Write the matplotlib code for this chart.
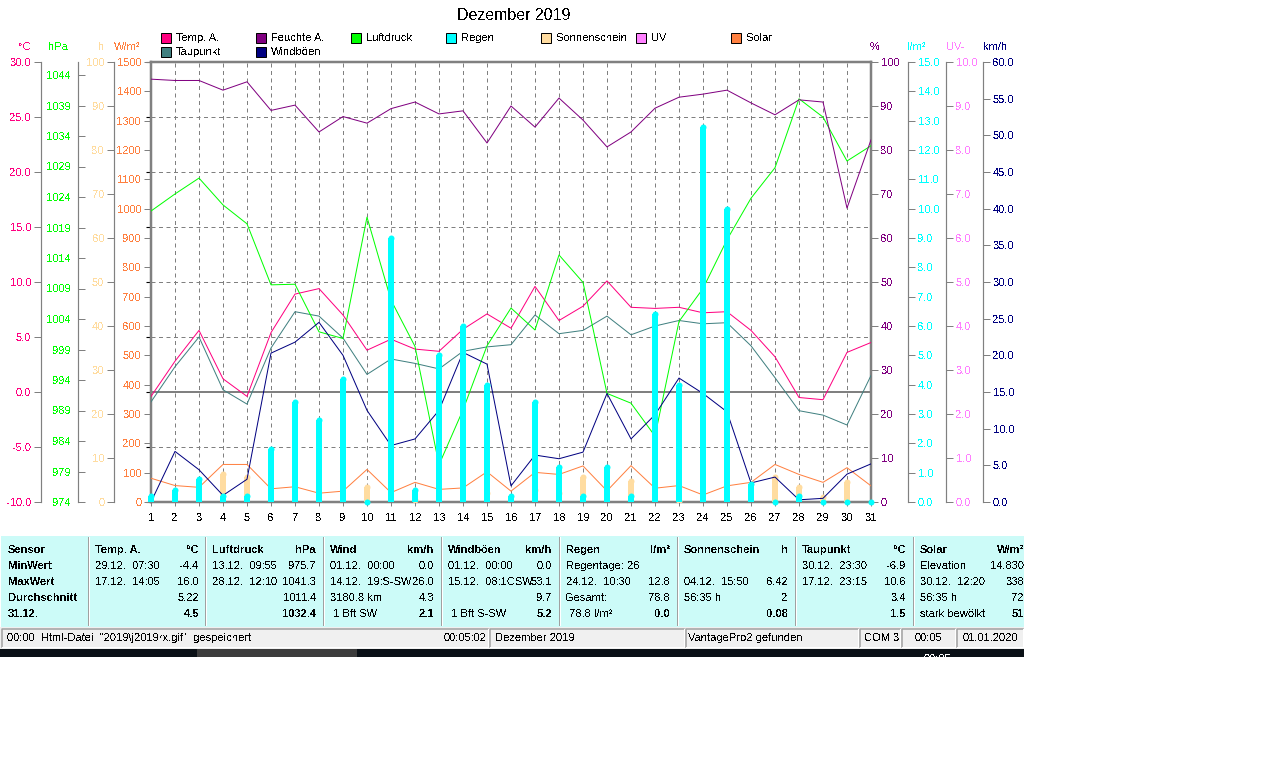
import matplotlib
matplotlib.use("Agg")
import matplotlib.pyplot as plt
import numpy as np
from matplotlib.patches import Rectangle

plt.rcParams['font.family'] = ['Liberation Sans', 'DejaVu Sans']
plt.rcParams['text.antialiased'] = False

# ==========================
# DATA
# ==========================
days = list(range(1, 32))

temp = [-0.4, 2.8, 5.6, 1.2, -0.4, 5.4, 8.9, 9.4, 7.0, 3.8, 4.8, 3.9, 3.7, 5.7, 7.1, 5.8,
        9.6, 6.5, 7.8, 10.1, 7.7, 7.6, 7.7, 7.2, 7.3, 5.6, 3.2, -0.5, -0.7, 3.6, 4.5]
dewpoint = [-0.9, 2.3, 5.0, 0.2, -1.1, 4.0, 7.3, 6.9, 4.9, 1.6, 3.0, 2.6, 2.1, 3.7, 4.1, 4.3,
            7.0, 5.3, 5.6, 6.9, 5.2, 6.0, 6.5, 6.2, 6.3, 4.2, 1.3, -1.7, -2.1, -3.0, 1.5]
humidity = [96.1, 95.8, 95.8, 93.6, 95.5, 89.0, 90.2, 84.1, 87.6, 86.1, 89.4, 90.9, 88.2, 88.9, 81.6, 90.0,
            85.2, 91.8, 86.8, 80.7, 84.1, 89.5, 92.0, 92.7, 93.6, 90.7, 88.0, 91.4, 90.9, 66.8, 82.3]
gusts = [0.0, 6.9, 4.4, 0.9, 3.1, 20.3, 21.8, 24.5, 20.0, 12.5, 7.7, 8.6, 12.5, 20.4, 18.8, 2.2,
         6.4, 5.9, 6.8, 14.8, 8.6, 11.9, 16.9, 14.8, 12.3, 2.6, 3.4, 0.3, 0.5, 3.8, 5.2]
pressure = [1021.7, 1024.5, 1027.1, 1022.7, 1019.6, 1009.6, 1009.7, 1001.9, 1000.8, 1020.7, 1007.1,
            999.5, 980.1, 989.1, 999.6, 1005.8, 1002.2, 1014.5, 1010.0, 991.8, 990.2, 984.8,
            1003.6, 1009.0, 1017.0, 1023.8, 1028.8, 1040.1, 1037.1, 1029.9, 1032.4]
solar = [81, 56, 50, 128, 128, 45, 52, 30, 37, 111, 32, 67, 43, 48, 103, 37,
         101, 94, 123, 38, 124, 47, 56, 24, 55, 67, 128, 94, 67, 117, 55]
rain = [0.2, 0.4, 0.8, 0.2, 0.2, 1.8, 3.4, 2.8, 4.2, 0.0, 9.0, 0.4, 5.0, 6.0, 4.0, 0.2,
        3.4, 1.2, 0.2, 1.2, 0.2, 6.4, 4.0, 12.8, 10.0, 0.6, 0.0, 0.2, 0.0, 0.0, 0.0]
sunshine = [0, 0, 0, 6.42, 5.6, 0, 0, 0, 0, 3.4, 0, 0.5, 0, 0, 2.0, 0,
            2.8, 2.0, 5.6, 0, 4.7, 0, 0.2, 0, 0, 0, 5.6, 3.5, 1.05, 4.5, 0]

temp_ticks = list(range(-10, 31, 5))
pressure_ticks = list(range(974, 1045, 5))
sun_ticks = list(range(0, 101, 10))
solar_ticks = list(range(0, 1501, 100))
humidity_ticks = list(range(0, 101, 10))
rain_ticks = list(range(0, 16))
uv_ticks = list(range(0, 11))
wind_ticks = list(range(0, 61, 5))

legend_rows = [("Temp. A.", "Taupunkt"), ("Feuchte A.", "Windböen"), ("Luftdruck", None), ("Regen", None),
               ("Sonnenschein", None), ("UV", None), ("Solar", None)]
row_names = ["Sensor", "MinWert", "MaxWert", "Durchschnitt", "31.12."]
table_panels = [
    ("Temp. A.", "°C", ["29.12.  07:30", "17.12.  14:05", "", ""], ["-4.4", "16.0", "5.22", "4.5"]),
    ("Luftdruck", "hPa", ["13.12.  09:55", "28.12.  12:10", "", ""], ["975.7", "1041.3", "1011.4", "1032.4"]),
    ("Wind", "km/h", ["01.12.  00:00", "14.12.  19:S-SW", "3180.8 km", " 1 Bft SW"], ["0.0", "26.0", "4.3", "2.1"]),
    ("Windböen", "km/h", ["01.12.  00:00", "15.12.  08:1CSW", "", " 1 Bft S-SW"], ["0.0", "53.1", "9.7", "5.2"]),
    ("Regen", "l/m²", ["Regentage: 26", "24.12.  10:30", "Gesamt:", " 78.8 l/m²"], ["", "12.8", "78.8", "0.0"]),
    ("Sonnenschein", "h", ["", "04.12.  15:50", "56:35 h", ""], ["", "6.42", "2", "0.08"]),
    ("Taupunkt", "°C", ["30.12.  23:30", "17.12.  23:15", "", ""], ["-6.9", "10.6", "3.4", "1.5"]),
    ("Solar", "W/m²", ["Elevation", "30.12.  12:20", "56:35 h", "stark bewölkt"], ["14.830", "338", "72", "51"]),
]
status_cells = [
    (2, 488, '00:00  Html-Datei  "2019\\j2019rx.gif"  gespeichert', 5, "00:05:02"),
    (490, 684, "Dezember 2019", 5, ""),
    (686, 858, "VantagePro2 gefunden", 2, ""),
    (860, 900, "COM 3", 4, ""),
    (902, 955, "00:05", 13, ""),
    (957, 1023, "01.01.2020", 6, ""),
]

# ==========================
# COLOURS / LAYOUT
# ==========================
C_TEMP = '#ff0080'
C_DEW = '#408080'
C_HUM = '#800080'
C_GUST = '#000080'
C_PRESS = '#00ff00'
C_RAIN = '#00ffff'
C_SUN = '#ffdca0'
C_UV = '#ff80ff'
C_SOLAR = '#ff8040'
GRAY = '#808080'

W, H = 1264, 768
PX = 0.72  # one pixel in points at dpi 100
L, R, T, B = 151, 871, 62, 502

fig = plt.figure(figsize=(W / 100, H / 100), dpi=100, facecolor='white')

# background layer in pixel coordinates, for everything that is not a scale
bg = fig.add_axes([0, 0, 1, 1], zorder=0)
bg.set_xlim(0, W)
bg.set_ylim(H, 0)
bg.axis('off')

# ==========================
# PLOT FRAME AND GRID
# ==========================
ax = fig.add_axes([L / W, 1 - B / H, (R - L) / W, (B - T) / H], zorder=1)
ax.patch.set_alpha(0)
ax.set_xlim(1, 31)
ax.set_ylim(-10, 30)
ax.set_xticks(days)
ax.set_yticks(temp_ticks)
ax.tick_params(axis='y', left=False, labelleft=False)
ax.tick_params(axis='x', length=3, width=PX, color=GRAY, labelsize=8, pad=5, labelcolor='black')
ax.grid(True, color=GRAY, linewidth=PX, linestyle=(0, (4, 3.5)))
ax.set_axisbelow(True)
ax.axhline(0, color=GRAY, linewidth=2 * PX)
for s in ax.spines.values():
    s.set_color(GRAY)
    s.set_linewidth(2.5 * PX)


def make_axis(side, out_px, ylim, ticks, fmt, color, direction='out', pad=2):
    # one extra y scale, sitting out from the frame by out_px
    a = ax.twinx()
    a.patch.set_alpha(0)
    a.set_ylim(*ylim)
    a.set_yticks(ticks)
    a.set_yticklabels([fmt.format(t) for t in ticks])
    for s in a.spines.values():
        s.set_visible(False)
    a.yaxis.set_ticks_position(side)
    a.yaxis.set_label_position(side)
    if out_px > 0:
        a.spines[side].set_visible(True)
        a.spines[side].set_position(('outward', out_px * PX))
        a.spines[side].set_color(GRAY)
        a.spines[side].set_linewidth(1.2 * PX)
    a.tick_params(axis='y', length=5, width=PX, color=GRAY, labelcolor=color, labelsize=8,
                  direction=direction, pad=pad)
    return a


ax_temp = make_axis('left', 110, (-10, 30), temp_ticks, '{:.1f}', C_TEMP)
ax_press = make_axis('left', 73, (974, 974 + (B - T) / 6.1), pressure_ticks, '{:d}', C_PRESS, direction='in', pad=5)
ax_sun = make_axis('left', 37, (0, 100), sun_ticks, '{:d}', C_SUN)
ax_solar = make_axis('left', 0, (0, 1500), solar_ticks, '{:d}', C_SOLAR)
ax_hum = make_axis('right', 0, (0, 100), humidity_ticks, '{:d}', C_HUM)
ax_rain = make_axis('right', 37, (0, 15), rain_ticks, '{:.1f}', C_RAIN)
ax_uv = make_axis('right', 75, (0, 10), uv_ticks, '{:.1f}', C_UV)
ax_wind = make_axis('right', 112, (0, 60), wind_ticks, '{:.1f}', C_GUST)

# ==========================
# SERIES
# ==========================
BAR_PX = 6
sun_days = [d for d, v in zip(days, sunshine) if v > 0]
sun_vals = [v for v in sunshine if v > 0]
ax_sun.vlines(sun_days, 0, sun_vals, color=C_SUN, linewidth=BAR_PX * PX)
ax_sun.plot(sun_days, sun_vals, 'o', color=C_SUN, markersize=BAR_PX * PX, markeredgewidth=0)

lw = PX
ax_solar.plot(days, solar, color=C_SOLAR, linewidth=lw)
ax_press.plot(days, pressure, color=C_PRESS, linewidth=lw)
ax_temp.plot(days, dewpoint, color=C_DEW, linewidth=lw)
ax_temp.plot(days, temp, color=C_TEMP, linewidth=lw)
ax_wind.plot(days, gusts, color=C_GUST, linewidth=lw)
ax_hum.plot(days, humidity, color=C_HUM, linewidth=lw)

# rain goes on top of every line; a dry day still leaves a dot on the base line
ax_rain.set_zorder(5)
ax_rain.vlines(days, 0, rain, color=C_RAIN, linewidth=BAR_PX * PX, clip_on=False)
ax_rain.plot(days, rain, 'o', color=C_RAIN, markersize=BAR_PX * PX, markeredgewidth=0, clip_on=False)

# ==========================
# TITLE, UNITS, LEGEND
# ==========================
bg.text(514, 15, "Dezember 2019", fontsize=11.5, ha='center', va='center', color='black')
units = [(25, "°C", C_TEMP), (58, "hPa", C_PRESS), (101, "h", C_SUN), (127, "W/m²", C_SOLAR),
         (875, "%", C_HUM), (917, "l/m²", C_RAIN), (956.6, "UV-I", C_UV), (995, "km/h", C_GUST)]
for x, label, color in units:
    bg.text(x, 47, label, fontsize=8, ha='center', va='center', color=color)

legend_colors = {"Temp. A.": C_TEMP, "Taupunkt": C_DEW, "Feuchte A.": C_HUM, "Windböen": C_GUST,
                 "Luftdruck": C_PRESS, "Regen": C_RAIN, "Sonnenschein": C_SUN, "UV": C_UV, "Solar": C_SOLAR}
for col, names in enumerate(legend_rows):
    for row, name in enumerate(names):
        if name is None:
            continue
        x = 161 + 95 * col
        y = 33 + 14 * row
        bg.add_patch(Rectangle((x, y), 10, 10, facecolor=legend_colors[name], edgecolor='black', linewidth=PX))
        bg.text(x + 15, y + 5, name, fontsize=8, ha='left', va='center', color='black')

# ==========================
# SUMMARY TABLE
# ==========================
PANEL = '#ccfbf8'
ROWS_Y = [550, 566, 582, 598, 614]
bg.add_patch(Rectangle((1, 536), 1023, 91, facecolor=PANEL, edgecolor='none'))
for i, name in enumerate(row_names):
    bg.text(8, ROWS_Y[i], name, fontsize=8, fontweight='bold', ha='left', va='center', color='black')

panel_x = [88, 205, 323, 441, 559, 677, 795, 913]
for left, (head, unit, lefts, rights) in zip(panel_x, table_panels):
    bg.plot([left, left], [537, 625], color='#a0a0a0', linewidth=PX)
    bg.plot([left + 1, left + 1], [537, 625], color='white', linewidth=PX)
    x0 = left + 7
    x1 = left + 111
    bg.text(x0, ROWS_Y[0], head, fontsize=8, fontweight='bold', ha='left', va='center', color='black')
    bg.text(x1, ROWS_Y[0], unit, fontsize=8, fontweight='bold', ha='right', va='center', color='black')
    for i in range(4):
        weight = 'bold' if i == 3 else 'normal'
        bg.text(x0, ROWS_Y[i + 1], lefts[i], fontsize=8, ha='left', va='center', color='black')
        bg.text(x1, ROWS_Y[i + 1], rights[i], fontsize=8, fontweight=weight, ha='right', va='center', color='black')

# ==========================
# STATUS BAR AND DARK STRIP
# ==========================
bg.add_patch(Rectangle((0, 627), 1024, 22, facecolor='#f0f0f0', edgecolor='none'))
for x0, x1, text, offset, right_text in status_cells:
    bg.plot([x0, x0, x1], [647, 629, 629], color='#a0a0a0', linewidth=1.5 * PX)
    bg.plot([x0, x1, x1], [647, 647, 629], color='white', linewidth=PX)
    bg.text(x0 + offset, 638, text, fontsize=8, ha='left', va='center', color='black')
    if right_text:
        bg.text(x1 - 2, 638, right_text, fontsize=8, ha='right', va='center', color='black')

bg.add_patch(Rectangle((0, 649), 1024, 8, facecolor='#0a1016', edgecolor='none'))
bg.add_patch(Rectangle((197, 649), 160, 8, facecolor='#3c3c3c', edgecolor='none'))
clip = Rectangle((0, 649), 1024, 8, transform=bg.transData)
strip_text = bg.text(937, 659, "00:05", fontsize=8, ha='center', va='center', color='white')
strip_text.set_clip_path(clip)

fig.savefig('out.png', dpi=100)
